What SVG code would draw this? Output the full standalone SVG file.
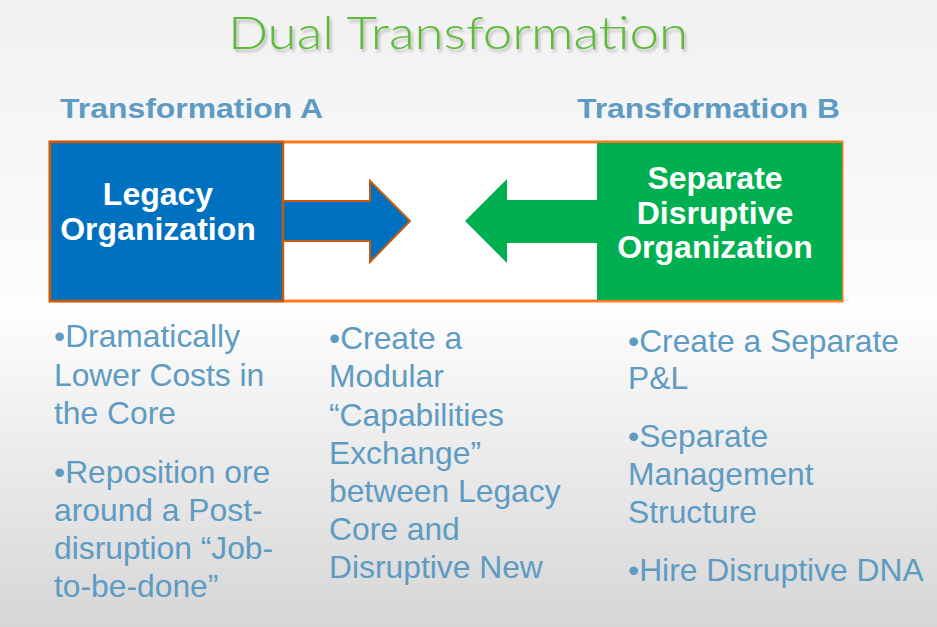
<svg xmlns="http://www.w3.org/2000/svg" width="937" height="627" viewBox="0 0 937 627">
<defs>
<linearGradient id="bg" x1="0" y1="0" x2="0" y2="1">
<stop offset="0" stop-color="#f1f1f1"/>
<stop offset="0.5" stop-color="#fdfdfd"/>
<stop offset="1" stop-color="#d6d6d6"/>
</linearGradient>
<filter id="sh" x="-5%" y="-20%" width="110%" height="150%">
<feGaussianBlur in="SourceAlpha" stdDeviation="1.5"/>
<feOffset dx="2" dy="3" result="b"/>
<feComponentTransfer><feFuncA type="linear" slope="0.25"/></feComponentTransfer>
<feMerge><feMergeNode/><feMergeNode in="SourceGraphic"/></feMerge>
</filter>
</defs>
<style>
.title{font-family:"Lato","Liberation Sans",sans-serif;font-weight:300;font-size:46px;fill:#5dba3a}
.hdr{font-family:"Liberation Sans",Arial,sans-serif;font-weight:bold;font-size:27px;fill:#5e9bc3}
.box{font-family:"Liberation Sans",Arial,sans-serif;font-weight:bold;font-size:32px;fill:#ffffff;text-anchor:middle}
.bul{font-family:"Liberation Sans",Arial,sans-serif;font-size:31.8px;fill:#5e9bc3}
</style>
<rect x="0" y="0" width="937" height="627" fill="url(#bg)"/>
<text class="title" x="458" y="49" text-anchor="middle" textLength="460" lengthAdjust="spacingAndGlyphs" filter="url(#sh)">Dual Transformation</text>
<text class="hdr" x="60" y="118" textLength="263" lengthAdjust="spacingAndGlyphs">Transformation A</text>
<text class="hdr" x="577" y="118" textLength="263" lengthAdjust="spacingAndGlyphs">Transformation B</text>
<g id="connectors">
<rect x="50" y="142" width="792" height="159" fill="#ffffff" stroke="#ff7a1a" stroke-width="3"/>
<polygon points="282,201 370,201 370,181 410,221 370,262 370,241 282,241" fill="#0070c0" stroke="#c55a11" stroke-width="2"/>
<polygon points="599,200 507,200 507,179 465,221 507,263 507,243 599,243" fill="#00b050"/>
</g>
<g id="legacy">
<rect x="50" y="142" width="233" height="159" fill="#0070c0" stroke="#c55a11" stroke-width="2.5"/>
<text class="box" x="158" y="205">Legacy</text>
<text class="box" x="158" y="240">Organization</text>
</g>
<g id="disruptive">
<rect x="597" y="143" width="245" height="157" fill="#00b050"/>
<text class="box" x="715" y="189">Separate</text>
<text class="box" x="715" y="224">Disruptive</text>
<text class="box" x="715" y="258">Organization</text>
</g>
<g id="colA">
<text class="bul" x="54" y="347">•Dramatically</text>
<text class="bul" x="54" y="386">Lower Costs in</text>
<text class="bul" x="54" y="424">the Core</text>
<text class="bul" x="54" y="483">•Reposition ore</text>
<text class="bul" x="54" y="521">around a Post-</text>
<text class="bul" x="54" y="559">disruption “Job-</text>
<text class="bul" x="54" y="597">to-be-done”</text>
</g>
<g id="colB">
<text class="bul" x="329" y="349">•Create a</text>
<text class="bul" x="329" y="387">Modular</text>
<text class="bul" x="329" y="426">“Capabilities</text>
<text class="bul" x="329" y="464">Exchange”</text>
<text class="bul" x="329" y="502">between Legacy</text>
<text class="bul" x="329" y="540">Core and</text>
<text class="bul" x="329" y="578">Disruptive New</text>
</g>
<g id="colC">
<text class="bul" x="628" y="352">•Create a Separate</text>
<text class="bul" x="628" y="389">P&amp;L</text>
<text class="bul" x="628" y="447">•Separate</text>
<text class="bul" x="628" y="485">Management</text>
<text class="bul" x="628" y="523">Structure</text>
<text class="bul" x="628" y="581">•Hire Disruptive DNA</text>
</g>
</svg>
